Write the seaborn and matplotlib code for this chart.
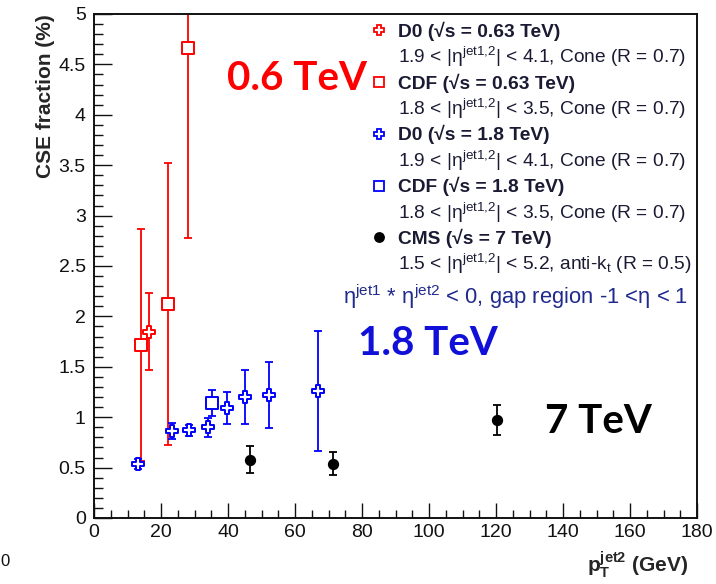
import matplotlib
matplotlib.use("Agg")
import matplotlib.pyplot as plt
from matplotlib.lines import Line2D
from matplotlib.ticker import MultipleLocator
import seaborn as sns
import pandas as pd

# Central exclusive (CSE) fraction vs. second-jet pT
d0_063_pt = [16.5]
d0_063_frac = [1.85]
d0_063_err = [0.38]

cdf_063_pt = [14.0, 22.0, 28.0]
cdf_063_frac = [1.72, 2.12, 4.66]
cdf_063_err = [1.15, 1.40, 1.88]

d0_18_pt = [13.2, 23.3, 28.5, 33.9, 39.6, 45.1, 52.3, 66.8]
d0_18_frac = [0.54, 0.86, 0.87, 0.90, 1.09, 1.20, 1.22, 1.26]
d0_18_err = [0.05, 0.08, 0.055, 0.095, 0.16, 0.27, 0.33, 0.60]

cdf_18_pt = [35.3]
cdf_18_frac = [1.14]
cdf_18_err = [0.125]

cms_pt = [46.6, 71.3, 120.4]
cms_frac = [0.58, 0.54, 0.97]
cms_err = [0.135, 0.11, 0.15]

x_ticks = [0, 20, 40, 60, 80, 100, 120, 140, 160, 180]
y_ticks = [0, 0.5, 1, 1.5, 2, 2.5, 3, 3.5, 4, 4.5, 5]

RED = "#ff0000"
BLUE = "#0000ff"
BLACK = "#000000"

sns.set_theme(style="ticks")
plt.rcParams["font.family"] = ["Liberation Sans", "DejaVu Sans"]
plt.rcParams["mathtext.fontset"] = "custom"
plt.rcParams["mathtext.rm"] = "Liberation Sans"
plt.rcParams["mathtext.it"] = "Liberation Sans:italic"
plt.rcParams["mathtext.bf"] = "Liberation Sans:bold"
plt.rcParams["mathtext.default"] = "regular"

fig = plt.figure(figsize=(7.16, 5.84), dpi=100)
ax = fig.add_axes([94 / 716, 66 / 584, 603 / 716, 504 / 584])

series = [
    # pt, frac, err, color, marker, face, size
    (d0_063_pt, d0_063_frac, d0_063_err, RED, "P", "white", 80),
    (cdf_063_pt, cdf_063_frac, cdf_063_err, RED, "s", "white", 75),
    (d0_18_pt, d0_18_frac, d0_18_err, BLUE, "P", "white", 80),
    (cdf_18_pt, cdf_18_frac, cdf_18_err, BLUE, "s", "white", 75),
    (cms_pt, cms_frac, cms_err, BLACK, "o", BLACK, 45),
]

for pt, frac, err, col, mk, face, size in series:
    ax.errorbar(pt, frac, yerr=err, fmt="none", ecolor=col, elinewidth=1.3,
                capsize=2.6, capthick=1.3, zorder=2)
    df = pd.DataFrame({"pt": pt, "frac": frac})
    sns.scatterplot(data=df, x="pt", y="frac", marker=mk, s=size,
                    color=face, edgecolor=col, linewidth=1.4, ax=ax, zorder=3)

ax.set_xlim(0, 180)
ax.set_ylim(0, 5)
ax.set_xticks(x_ticks)
ax.set_yticks(y_ticks)
ax.set_xticklabels([f"{v:g}" for v in x_ticks])
ax.set_yticklabels([f"{v:g}" for v in y_ticks])
ax.xaxis.set_minor_locator(MultipleLocator(5))
ax.yaxis.set_minor_locator(MultipleLocator(0.1))
ax.tick_params(axis="both", which="both", direction="in", top=False, right=False,
               labelsize=14, colors="#111111", width=1.0)
ax.tick_params(axis="y", which="major", length=13, pad=6)
ax.tick_params(axis="y", which="minor", length=6.5)
ax.tick_params(axis="x", which="major", length=11, pad=4)
ax.tick_params(axis="x", which="minor", length=6)
for sp in ax.spines.values():
    sp.set_visible(True)
    sp.set_linewidth(1.4)
    sp.set_color("#111111")
ax.grid(False)

ax.set_ylabel("CSE fraction (%)", fontsize=15, fontweight="bold", loc="top")
ax.yaxis.set_label_coords(-0.064, 1.0)
ax.set_xlabel(r"$\mathbf{p_{T}^{jet2}}$ (GeV)", fontsize=15, fontweight="bold",
              loc="right")
ax.xaxis.set_label_coords(0.985, -0.062)

# Legend with two-line entries
def mk(marker, col, face):
    return Line2D([], [], linestyle="none", marker=marker, markersize=6.5,
                  markerfacecolor=face, markeredgecolor=col, markeredgewidth=1.3)

blank = Line2D([], [], linestyle="none")
handles = [
    mk("P", RED, "white"), blank,
    mk("s", RED, "white"), blank,
    mk("P", BLUE, "white"), blank,
    mk("s", BLUE, "white"), blank,
    mk("o", BLACK, BLACK), blank,
]
labels = [
    "D0 (√s = 0.63 TeV)",
    r"1.9 < |$\eta^{jet1{,}2}$| < 4.1, Cone (R = 0.7)",
    "CDF (√s = 0.63 TeV)",
    r"1.8 < |$\eta^{jet1{,}2}$| < 3.5, Cone (R = 0.7)",
    "D0 (√s = 1.8 TeV)",
    r"1.9 < |$\eta^{jet1{,}2}$| < 4.1, Cone (R = 0.7)",
    "CDF (√s = 1.8 TeV)",
    r"1.8 < |$\eta^{jet1{,}2}$| < 3.5, Cone (R = 0.7)",
    "CMS (√s = 7 TeV)",
    r"1.5 < |$\eta^{jet1{,}2}$| < 5.2, anti-$k_{t}$ (R = 0.5)",
]
leg = ax.legend(handles, labels, loc="upper left", bbox_to_anchor=(0.458, 0.985),
                frameon=False, fontsize=13.8, handlelength=0.92, handletextpad=0.55,
                labelspacing=0.22, borderpad=0, borderaxespad=0)
for i, t in enumerate(leg.get_texts()):
    t.set_color("#1a1a33")
    if i % 2 == 0:
        t.set_fontweight("bold")

ax.text((343 - 94) / 603, (518 - 297) / 504,
        r"$\eta^{jet1}$ * $\eta^{jet2}$ < 0, gap region -1 <$\eta$ < 1",
        transform=ax.transAxes, fontsize=15.8, color="#1f2a8c", va="center", ha="left")

# Energy annotations
ann = dict(fontsize=29, fontweight="bold", family=["Lato", "DejaVu Sans"], va="baseline", ha="left")
ax.text(39.7, 4.25, "0.6 TeV", color=RED, **ann)
ax.text(78.8, 1.617, "1.8 TeV", color="#1010d8", **ann)
ax.text(134.6, 0.843, "7 TeV", color=BLACK, **ann)

fig.text(0.001, 0.03, "0", fontsize=12, color="#111111")

fig.savefig("out.png", dpi=100)
